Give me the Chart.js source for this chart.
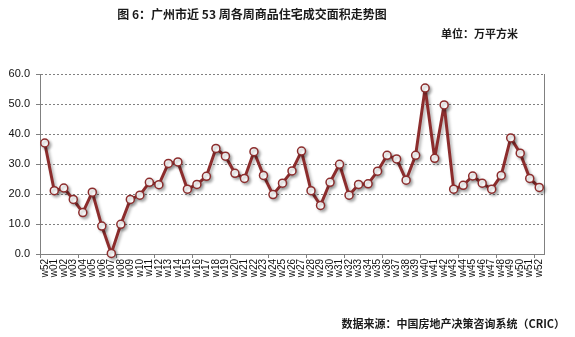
<!DOCTYPE html>
<html>
<head>
<meta charset="utf-8">
<script src="https://cdn.jsdelivr.net/npm/chart.js@4/dist/chart.umd.min.js"></script>
<style>
  body { margin: 0; background: #fff; }
  #wrap { position: relative; width: 575px; height: 337px; }
  #area_chart { position: absolute; left: 0; top: 0; }
  .txt {
    position: absolute;
    font-family: "Noto Sans CJK SC", sans-serif;
    font-weight: bold;
    color: #1a1a1a;
    white-space: nowrap;
    line-height: 1;
  }
  #chart_title { left: 102px; width: 300px; top: 8px; font-size: 12px; text-align: center; }
  #chart_unit { right: 57px; top: 28px; font-size: 11px; }
  #chart_source { right: 10px; top: 318px; font-size: 11px; }
</style>
</head>
<body>
<div id="wrap">
  <canvas id="area_chart" width="575" height="337"></canvas>
  <div class="txt" id="chart_title">图 6：广州市近 53 周各周商品住宅成交面积走势图</div>
  <div class="txt" id="chart_unit">单位：万平方米</div>
  <div class="txt" id="chart_source">数据来源：中国房地产决策咨询系统（CRIC）</div>
</div>
<script>
// weekly residential transaction area, 万平方米
const week_labels = ['w52', 'w01', 'w02', 'w03', 'w04', 'w05', 'w06', 'w07', 'w08', 'w09',
  'w10', 'w11', 'w12', 'w13', 'w14', 'w15', 'w16', 'w17', 'w18', 'w19',
  'w20', 'w21', 'w22', 'w23', 'w24', 'w25', 'w26', 'w27', 'w28', 'w29',
  'w30', 'w31', 'w32', 'w33', 'w34', 'w35', 'w36', 'w37', 'w38', 'w39',
  'w40', 'w41', 'w42', 'w43', 'w44', 'w45', 'w46', 'w47', 'w48', 'w49',
  'w50', 'w51', 'w52']

const area_values = [37.0, 21.1, 22.0, 18.2, 13.8, 20.6, 9.3, 0.2, 9.9, 18.2,
  19.6, 23.9, 23.1, 30.2, 30.7, 21.6, 23.2, 25.9, 35.2, 32.6,
  26.9, 25.2, 34.1, 26.2, 19.8, 23.6, 27.7, 34.3, 21.1, 16.2,
  23.9, 29.9, 19.6, 23.2, 23.4, 27.6, 32.9, 31.7, 24.6, 32.9,
  55.3, 31.9, 49.7, 21.6, 22.9, 26.0, 23.6, 21.6, 26.2, 38.7,
  33.6, 25.2, 22.2]

const y_min = 0
const y_max = 60
const y_step = 10

Chart.defaults.font.family = '"Liberation Sans", Arial, sans-serif';

// soft drop shadow under the line and markers
const line_shadow = {
  id: 'line_shadow',
  beforeDatasetDraw(chart) {
    const ctx = chart.ctx;
    ctx.save();
    ctx.shadowColor = 'rgba(0, 0, 0, 0.3)';
    ctx.shadowBlur = 3;
    ctx.shadowOffsetX = 2;
    ctx.shadowOffsetY = 2;
  },
  afterDatasetDraw(chart) {
    chart.ctx.restore();
  }
};

const ctx = document.getElementById('area_chart').getContext('2d');

const area_chart = new Chart(ctx, {
  type: 'line',
  data: {
    labels: week_labels,
    datasets: [{
      label: '成交面积',
      data: area_values,
      borderColor: '#8c2d2d',
      borderWidth: 3,
      borderJoinStyle: 'round',
      pointRadius: 4,
      pointBorderWidth: 1.5,
      pointBackgroundColor: '#ffffff',
      pointBorderColor: '#8c2d2d',
      tension: 0,
      clip: false
    }]
  },
  options: {
    responsive: false,
    animation: false,
    layout: {
      padding: { top: 74, right: 31, bottom: 0, left: 0 }
    },
    plugins: {
      legend: { display: false },
      tooltip: { enabled: false }
    },
    scales: {
      x: {
        offset: true,
        afterFit(scale) { scale.height = 83; },
        grid: {
          offset: true,
          drawOnChartArea: false,
          tickLength: 4,
          // tick marks only every 4th week
          color: (c) => (c.index !== undefined && c.index % 4 === 0) ? '#808080' : 'rgba(0,0,0,0)'
        },
        border: { color: '#808080', width: 1 },
        ticks: {
          autoSkip: false,
          maxRotation: 90,
          minRotation: 90,
          padding: 1,
          color: '#111',
          font: { size: 10 }
        }
      },
      y: {
        min: y_min,
        max: y_max,
        afterFit(scale) { scale.width = 40; },
        grid: {
          color: (c) => c.tick && c.tick.value === 0 ? 'rgba(0,0,0,0)' : '#808080',
          tickColor: '#808080',
          tickLength: 4,
          tickBorderDash: []
        },
        border: { color: '#808080', width: 1, dash: [2, 2] },
        ticks: {
          stepSize: y_step,
          padding: 6,
          color: '#111',
          font: { size: 11 },
          callback: (v) => v.toFixed(1)
        }
      },
      y_right: {
        position: 'right',
        min: y_min,
        max: y_max,
        afterFit(scale) { scale.width = 0; },
        grid: { display: false, drawTicks: false },
        border: { color: '#808080', width: 1 },
        ticks: { display: false }
      }
    }
  },
  plugins: [line_shadow]
});
</script>
</body>
</html>
